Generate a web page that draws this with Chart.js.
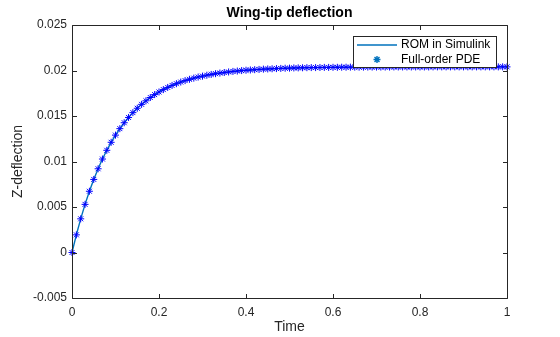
<!DOCTYPE html>
<html><head><meta charset="utf-8">
<script src="https://cdn.jsdelivr.net/npm/chart.js@4"></script>
<style>html,body{margin:0;padding:0;background:#fff;}canvas{display:block;}</style>
</head><body>
<canvas id="c" width="560" height="337"></canvas>
<script>
const timeValues = [0,0.01,0.02,0.03,0.04,0.05,0.06,0.07,0.08,0.09,0.1,0.11,0.12,0.13,0.14,0.15,0.16,0.17,0.18,0.19,0.2,0.21,0.22,0.23,0.24,0.25,0.26,0.27,0.28,0.29,0.3,0.31,0.32,0.33,0.34,0.35,0.36,0.37,0.38,0.39,0.4,0.41,0.42,0.43,0.44,0.45,0.46,0.47,0.48,0.49,0.5,0.51,0.52,0.53,0.54,0.55,0.56,0.57,0.58,0.59,0.6,0.61,0.62,0.63,0.64,0.65,0.66,0.67,0.68,0.69,0.7,0.71,0.72,0.73,0.74,0.75,0.76,0.77,0.78,0.79,0.8,0.81,0.82,0.83,0.84,0.85,0.86,0.87,0.88,0.89,0.9,0.91,0.92,0.93,0.94,0.95,0.96,0.97,0.98,0.99,1];
const romValues = [0,0.00194,0.00370,0.00529,0.00673,0.00803,0.00920,0.01027,0.01123,0.01211,0.01290,0.01361,0.01426,0.01484,0.01537,0.01585,0.01628,0.01667,0.01703,0.01735,0.01764,0.01790,0.01814,0.01836,0.01855,0.01873,0.01889,0.01903,0.01916,0.01928,0.01938,0.01948,0.01957,0.01965,0.01972,0.01978,0.01984,0.01990,0.01994,0.01999,0.02003,0.02006,0.02009,0.02012,0.02015,0.02017,0.02019,0.02021,0.02023,0.02025,0.02026,0.02028,0.02029,0.02030,0.02031,0.02032,0.02032,0.02033,0.02034,0.02034,0.02035,0.02035,0.02036,0.02036,0.02037,0.02037,0.02037,0.02037,0.02038,0.02038,0.02038,0.02038,0.02038,0.02038,0.02039,0.02039,0.02039,0.02039,0.02039,0.02039,0.02039,0.02039,0.02039,0.02040,0.02040,0.02040,0.02040,0.02040,0.02040,0.02040,0.02040,0.02040,0.02040,0.02040,0.02040,0.02040,0.02040,0.02040,0.02040,0.02040,0.02040];
const pdeValues = [0,0.00194,0.00370,0.00529,0.00673,0.00803,0.00920,0.01027,0.01123,0.01211,0.01290,0.01361,0.01426,0.01484,0.01537,0.01585,0.01628,0.01667,0.01703,0.01735,0.01764,0.01790,0.01814,0.01836,0.01855,0.01873,0.01889,0.01903,0.01916,0.01928,0.01938,0.01948,0.01957,0.01965,0.01972,0.01978,0.01984,0.01990,0.01994,0.01999,0.02003,0.02006,0.02009,0.02012,0.02015,0.02017,0.02019,0.02021,0.02023,0.02025,0.02026,0.02028,0.02029,0.02030,0.02031,0.02032,0.02032,0.02033,0.02034,0.02034,0.02035,0.02035,0.02036,0.02036,0.02037,0.02037,0.02037,0.02037,0.02038,0.02038,0.02038,0.02038,0.02038,0.02038,0.02039,0.02039,0.02039,0.02039,0.02039,0.02039,0.02039,0.02039,0.02039,0.02040,0.02040,0.02040,0.02040,0.02040,0.02040,0.02040,0.02040,0.02040,0.02040,0.02040,0.02040,0.02040,0.02040,0.02040,0.02040,0.02040,0.02040];
const xTickValues = [0,0.2,0.4,0.6,0.8,1];
const xTickLabels = ['0','0.2','0.4','0.6','0.8','1'];
const yTickValues = [-0.005,0,0.005,0.01,0.015,0.02,0.025];
const yTickLabels = ['-0.005','0','0.005','0.01','0.015','0.02','0.025'];
const seriesNames = ['ROM in Simulink','Full-order PDE'];
const titleText = 'Wing-tip deflection';
const xAxisTitle = 'Time';
const yAxisTitle = 'Z-deflection';

const FONT = '"Liberation Sans", Arial, Helvetica, sans-serif';
const AXIS_COLOR = '#262626';
const ROM_COLOR = '#0072BD';
const PDE_COLOR = '#0000FF';

const romPoints = timeValues.map((t, i) => ({x: t, y: romValues[i]}));
const pdePoints = timeValues.map((t, i) => ({x: t, y: pdeValues[i]}));

const boxPlugin = {
  id: 'matlabBox',
  afterDraw(chart) {
    const ctx = chart.ctx, ca = chart.chartArea;
    const xs = chart.scales.x, ys = chart.scales.y;
    const L = Math.round(ca.left) + 0.5, R = Math.round(ca.right) + 0.5;
    const T = Math.round(ca.top) + 0.5, B = Math.round(ca.bottom) + 0.5;
    const tl = 4.5;
    ctx.save();
    ctx.strokeStyle = AXIS_COLOR;
    ctx.lineWidth = 1;
    ctx.beginPath();
    ctx.rect(L, T, R - L, B - T);
    xTickValues.forEach(v => {
      const px = Math.round(xs.getPixelForValue(v)) + 0.5;
      ctx.moveTo(px, B); ctx.lineTo(px, B - tl);
      ctx.moveTo(px, T); ctx.lineTo(px, T + tl);
    });
    yTickValues.forEach(v => {
      const py = Math.round(ys.getPixelForValue(v)) + 0.5;
      ctx.moveTo(L, py); ctx.lineTo(L + tl, py);
      ctx.moveTo(R, py); ctx.lineTo(R - tl, py);
    });
    ctx.stroke();

    // legend
    const lx = 353.5, ly = 36.5, lw = 143, lh = 31;
    ctx.fillStyle = '#fff';
    ctx.fillRect(lx, ly, lw, lh);
    ctx.strokeStyle = AXIS_COLOR;
    ctx.strokeRect(lx, ly, lw, lh);
    const row1 = 45, row2 = 59.5;
    ctx.strokeStyle = ROM_COLOR;
    ctx.lineWidth = 1.4;
    ctx.beginPath();
    ctx.moveTo(357, row1); ctx.lineTo(397, row1);
    ctx.stroke();
    Chart.helpers.drawPoint(ctx, {pointStyle: 'star', radius: 3.5, borderWidth: 1, borderColor: PDE_COLOR}, 377, row2);
    ctx.fillStyle = '#000';
    ctx.font = '12px ' + FONT;
    ctx.textAlign = 'left';
    ctx.textBaseline = 'middle';
    ctx.fillText(seriesNames[0], 401, row1);
    ctx.fillText(seriesNames[1], 401, row2);
    ctx.restore();
  }
};

new Chart(document.getElementById('c'), {
  type: 'scatter',
  data: {
    datasets: [
      {
        label: seriesNames[1], data: pdePoints, showLine: false,
        pointStyle: 'star', pointRadius: 3.5, pointHoverRadius: 3.5,
        borderColor: PDE_COLOR, backgroundColor: PDE_COLOR, pointBorderWidth: 1,
        order: 0, clip: false
      },
      {
        label: seriesNames[0], data: romPoints, showLine: true,
        borderColor: ROM_COLOR, borderWidth: 1.4, pointRadius: 0, pointHoverRadius: 0,
        tension: 0, order: 1, fill: false
      }
    ]
  },
  options: {
    responsive: false,
    devicePixelRatio: 1,
    animation: false,
    events: [],
    layout: {padding: {left: 0, right: 53, top: 0, bottom: 0}},
    plugins: {
      legend: {display: false},
      tooltip: {enabled: false},
      title: {
        display: true, text: titleText, fullSize: false, color: '#000',
        font: {family: FONT, size: 14, weight: 'bold', lineHeight: 1.2},
        padding: {top: 4.6, bottom: 3.6}
      }
    },
    scales: {
      x: {
        type: 'linear', min: 0, max: 1,
        afterFit(s) { s.height = 39; },
        afterBuildTicks(s) { s.ticks = xTickValues.map(v => ({value: v})); },
        grid: {display: false, drawTicks: false},
        border: {display: false},
        ticks: {
          color: AXIS_COLOR, font: {family: FONT, size: 12}, padding: 7,
          autoSkip: false, maxRotation: 0,
          callback: (v, i) => xTickLabels[i]
        },
        title: {
          display: true, text: xAxisTitle, color: AXIS_COLOR,
          font: {family: FONT, size: 14, lineHeight: 1.2}, padding: {top: 0, bottom: 1}
        }
      },
      y: {
        type: 'linear', min: -0.005, max: 0.025,
        afterFit(s) { s.width = 72; },
        afterBuildTicks(s) { s.ticks = yTickValues.map(v => ({value: v})); },
        grid: {display: false, drawTicks: false},
        border: {display: false},
        ticks: {
          color: AXIS_COLOR, font: {family: FONT, size: 12}, padding: 5,
          autoSkip: false,
          callback: (v, i) => yTickLabels[i]
        },
        title: {
          display: true, text: yAxisTitle, color: AXIS_COLOR,
          font: {family: FONT, size: 14, lineHeight: 1.2}, padding: {top: 10, bottom: 0}
        }
      }
    }
  },
  plugins: [boxPlugin]
});
</script>
</body></html>
